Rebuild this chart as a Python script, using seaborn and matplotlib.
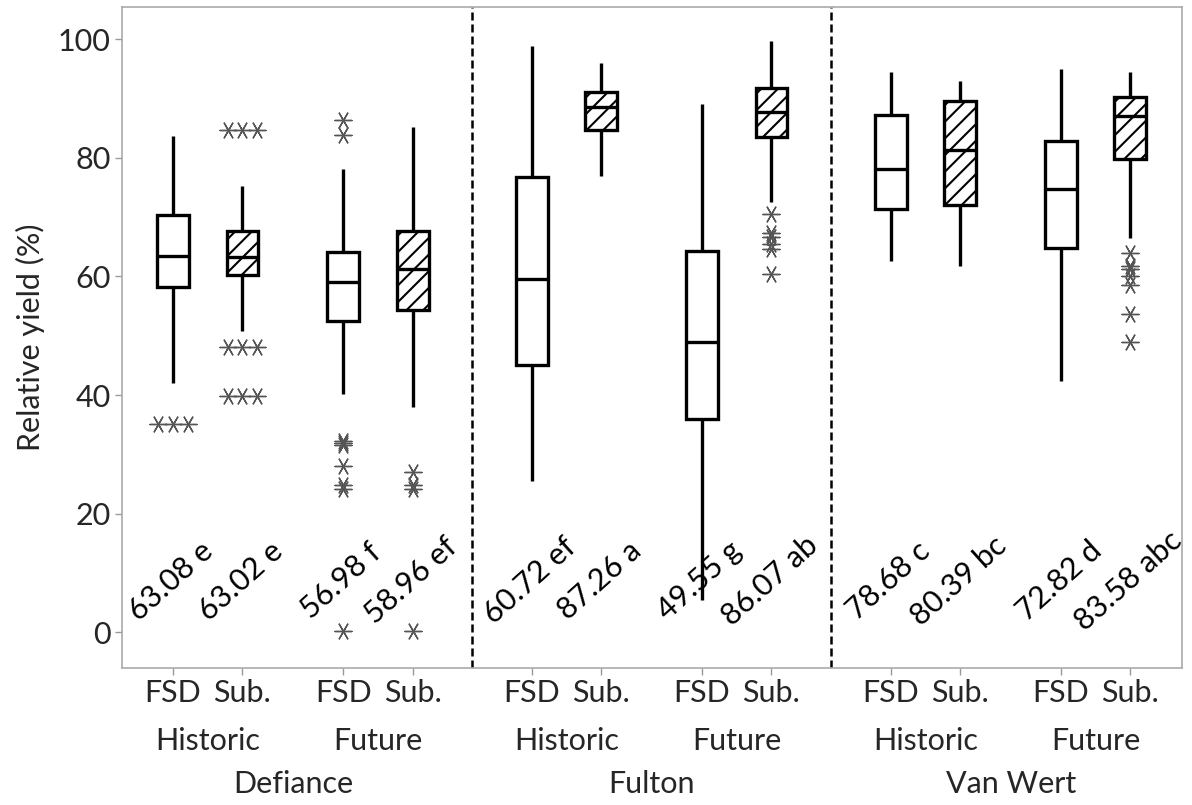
import numpy as np
import pandas as pd
import matplotlib
matplotlib.use("Agg")
from matplotlib import pyplot as plt
import matplotlib.transforms as mtransforms
import seaborn as sns

sites = ["Defiance", "Fulton", "Van Wert"]
periods = ["Historic", "Future"]
methods = ["FSD", "Sub."]

# box order: site -> period -> method
q1 = [58.2, 60.2, 52.5, 54.4, 45.0, 84.6, 35.9, 83.5, 71.4, 72.0, 64.8, 79.8]
med = [63.5, 63.2, 59.1, 61.3, 59.6, 88.6, 49.0, 87.7, 78.1, 81.3, 74.8, 87.0]
q3 = [70.3, 67.6, 64.1, 67.6, 76.7, 91.0, 64.2, 91.8, 87.2, 89.5, 82.9, 90.2]
whislo = [42.0, 50.8, 40.1, 38.0, 25.5, 77.0, 5.4, 72.5, 62.6, 61.8, 42.4, 66.4]
whishi = [83.7, 75.3, 78.1, 85.2, 98.9, 96.0, 89.0, 99.6, 94.5, 92.9, 95.0, 94.5]
outliers = [
    [35.2, 35.2, 35.2],
    [84.6, 84.6, 84.6, 48.1, 48.1, 48.1, 39.8, 39.8, 39.8],
    [86.4, 83.8, 32.3, 31.9, 31.5, 28.1, 24.9, 24.2, 0.2],
    [27.1, 24.9, 24.2, 0.2],
    [], [], [],
    [70.5, 67.3, 66.6, 65.5, 64.6, 60.4],
    [], [], [],
    [64.0, 61.8, 61.3, 60.0, 58.5, 53.6, 49.0],
]
mean_labels = ["63.08 e", "63.02 e", "56.98 f", "58.96 ef",
               "60.72 ef", "87.26 a", "49.55 g", "86.07 ab",
               "78.68 c", "80.39 bc", "72.82 d", "83.58 abc"]

sns.set_theme(style="white")
plt.rcParams["font.family"] = ["Lato", "DejaVu Sans"]
plt.rcParams["hatch.linewidth"] = 1.5
plt.rcParams["hatch.color"] = "black"

# x layout
site_step = 5.17
within = [0, 1, 2.45, 3.45]
pos = [s * site_step + w for s in range(len(sites)) for w in within]

stats = []
for i in range(len(pos)):
    stats.append(dict(med=med[i], q1=q1[i], q3=q3[i], whislo=whislo[i],
                      whishi=whishi[i], fliers=[], label=methods[i % 2]))

fig = plt.figure(figsize=(11.92, 8.05), dpi=100)
ax = fig.add_axes([0.1021, 0.1702, 0.8893, 0.8211])

lw = 2.4
bp = ax.bxp(stats, positions=pos, widths=0.46, showcaps=False, showfliers=False,
            patch_artist=True,
            boxprops=dict(facecolor="white", edgecolor="black", linewidth=lw),
            whiskerprops=dict(color="black", linewidth=lw, solid_capstyle="butt"),
            medianprops=dict(color="black", linewidth=lw))
for i, b in enumerate(bp["boxes"]):
    if i % 2 == 1:
        b.set_hatch("//")
    b.set_zorder(3)
for m in bp["medians"]:
    m.set_zorder(4)

# outliers, ties drawn side by side
rows = []
for i, vals in enumerate(outliers):
    for v in sorted(set(vals)):
        n = vals.count(v)
        for k in range(n):
            rows.append(dict(x=pos[i] + (k - (n - 1) / 2) * 0.215, y=v))
fl = pd.DataFrame(rows)
sns.scatterplot(data=fl, x="x", y="y", ax=ax, marker=(6, 2, 90), s=150,
                color="#555555", linewidth=1.0, zorder=5)

# mean labels
for i, t in enumerate(mean_labels):
    ax.text(pos[i] - 0.03, 8.7, t, rotation=42, rotation_mode="anchor",
            ha="center", va="center", fontsize=22, color="black")

# dashed separators between sites
for s in range(1, len(sites)):
    xs = (pos[4 * s - 1] + pos[4 * s]) / 2
    ax.axvline(xs, color="black", linestyle=(0, (3.2, 1.6)), linewidth=1.8, zorder=2)

ax.set_xlim(-0.74, 14.53)
ax.set_ylim(-6.0, 105.4)
ax.set_yticks([0, 20, 40, 60, 80, 100])
ax.set_xticks(pos)
ax.set_xticklabels([methods[i % 2] for i in range(len(pos))])
ax.tick_params(axis="both", labelsize=22, length=5, width=1, color="#999999",
               direction="out", pad=3, bottom=True, left=True)
for sp in ax.spines.values():
    sp.set_color("#aaaaaa")
    sp.set_linewidth(1.2)
ax.set_xlabel("")
ax.set_ylabel("Relative yield (%)", fontsize=22, labelpad=9)

trans = mtransforms.blended_transform_factory(ax.transData, ax.transAxes)
for s in range(len(sites)):
    for p in range(len(periods)):
        xc = (pos[4 * s + 2 * p] + pos[4 * s + 2 * p + 1]) / 2
        ax.text(xc, -0.11, periods[p], transform=trans, ha="center", va="center",
                fontsize=22)
    xs = (pos[4 * s] + pos[4 * s + 3]) / 2
    ax.text(xs, -0.1755, sites[s], transform=trans, ha="center", va="center",
            fontsize=22)

fig.savefig("out.png", dpi=100)
